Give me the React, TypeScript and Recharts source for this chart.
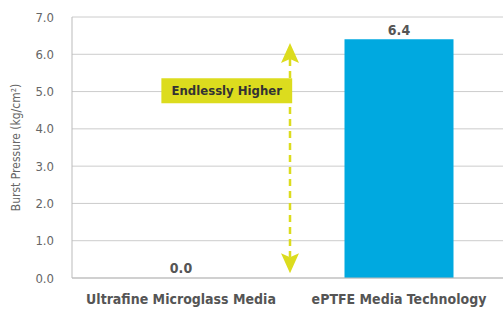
import React from 'react';
import { BarChart, Bar, XAxis, YAxis, CartesianGrid, LabelList, ReferenceLine, ReferenceArea, Cell } from 'recharts';

const categories = ['Ultrafine Microglass Media', 'ePTFE Media Technology'];
const values = [0.0, 6.4];
const positions = [0.5, 1.5];
const yTicks = [0, 1, 2, 3, 4, 5, 6, 7];
const annotationText = 'Endlessly Higher';

const data = categories.map((name, i) => ({ name, value: values[i], pos: positions[i] }));

const FONT = '"DejaVu Sans Condensed", "Liberation Sans", sans-serif';
const YELLOW = '#dcdc1e';
const BLUE = '#00a9e0';

const ArrowShape = (props: any) => {
  const { x1, y1, x2, y2 } = props;
  const x = x1;
  const top = Math.min(y1, y2);
  const bot = Math.max(y1, y2);
  const hw = 9;
  const ah = 20;
  const notch = 4;
  return (
    <g>
      <line x1={x} y1={top + ah - notch} x2={x} y2={bot - ah + notch} stroke={YELLOW} strokeWidth={2.5} strokeDasharray="7 5" />
      <polygon points={`${x},${top} ${x + hw},${top + ah} ${x},${top + ah - notch} ${x - hw},${top + ah}`} fill={YELLOW} />
      <polygon points={`${x},${bot} ${x + hw},${bot - ah} ${x},${bot - ah + notch} ${x - hw},${bot - ah}`} fill={YELLOW} />
    </g>
  );
};

const BoxLabel = (props: any) => {
  const vb = props.viewBox || {};
  const cx = vb.x + vb.width / 2;
  const cy = vb.y + vb.height / 2;
  return (
    <text x={cx} y={cy} textAnchor="middle" dominantBaseline="central" fill="#333" fontSize={13} fontWeight="bold" fontFamily={FONT}>
      {annotationText}
    </text>
  );
};

export default function App() {
  return (
    <div style={{ position: 'absolute', left: 0, top: 0, width: 503, height: 311, overflow: 'hidden', background: '#fff' }}>
      <BarChart width={508} height={311} data={data} margin={{ top: 17, right: 0, bottom: 0, left: 0 }} barCategoryGap="25%">
        <CartesianGrid vertical={false} stroke="#cccccc" />
        <XAxis
          dataKey="name"
          xAxisId={0}
          tickLine={false}
          axisLine={{ stroke: '#bbbbbb' }}
          height={33}
          tickMargin={10}
          tick={{ fill: '#555', fontSize: 14, fontWeight: 'bold', fontFamily: FONT }}
          interval={0}
        />
        <XAxis
          xAxisId="n"
          dataKey="pos"
          type="number"
          domain={[0, 2]}
          ticks={[0, 1, 2]}
          allowDataOverflow
          axisLine={false}
          tick={false}
          tickSize={8}
          tickLine={{ stroke: '#bbbbbb' }}
          height={0}
        />
        <YAxis
          width={72}
          domain={[0, 7]}
          ticks={yTicks}
          tickFormatter={(v: number) => v.toFixed(1)}
          tickLine={false}
          axisLine={{ stroke: '#bbbbbb' }}
          tickMargin={12}
          tick={{ fill: '#666', fontSize: 13, fontFamily: FONT }}
          label={{ value: 'Burst Pressure (kg/cm²)', angle: -90, position: 'insideLeft', offset: 16, style: { fill: '#666', fontSize: 12, fontFamily: FONT, textAnchor: 'middle' } }}
        />
        <Bar dataKey="value" fill={BLUE} isAnimationActive={false} minPointSize={1}>
          {data.map((d, i) => (
            <Cell key={i} fill={d.value > 0 ? BLUE : 'transparent'} />
          ))}
          <LabelList dataKey="value" position="top" offset={4} formatter={(v: any) => Number(v).toFixed(1)} fill="#555" fontSize={14} fontWeight="bold" fontFamily={FONT} />
        </Bar>
        <ReferenceArea xAxisId="n" x1={0.41} x2={1.01} y1={4.69} y2={5.36} fill={YELLOW} fillOpacity={1} stroke="none" label={<BoxLabel />} ifOverflow="visible" />
        <ReferenceLine xAxisId="n" segment={[{ x: 1, y: 6.3 }, { x: 1, y: 0.13 }]} shape={<ArrowShape />} ifOverflow="visible" />
      </BarChart>
    </div>
  );
}
